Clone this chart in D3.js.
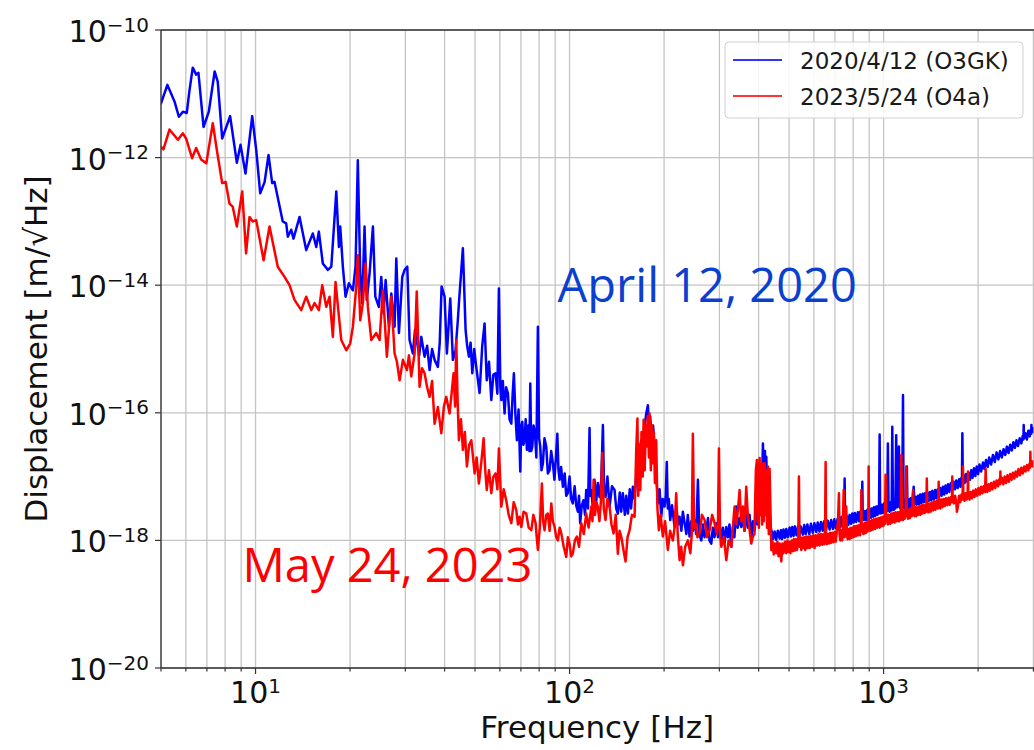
<!DOCTYPE html>
<html>
<head>
<meta charset="utf-8">
<script src="https://cdn.jsdelivr.net/npm/d3@7"></script>
<style>
  html, body { margin: 0; padding: 0; background: #fff; overflow: hidden; }
  svg { display: block; }
</style>
</head>
<body>
<svg id="chart" width="1034" height="750"></svg>
<script>
// Displacement noise spectra: [frequency in Hz, log10 of displacement in m/sqrt(Hz)]
const o3gk = [
  [5.00,-11.15],[5.24,-10.86],[5.52,-11.12],[5.70,-11.36],[5.87,-11.28],[6.04,-11.30],[6.16,-10.95],
  [6.31,-10.59],[6.47,-10.70],[6.58,-10.67],[6.83,-11.52],[7.10,-11.28],[7.41,-10.65],[7.58,-10.81],
  [7.83,-11.70],[8.07,-11.52],[8.30,-11.35],[8.72,-12.08],[8.96,-11.80],[9.29,-12.25],[9.76,-11.35],
  [10.05,-11.88],[10.35,-12.56],[10.69,-12.38],[11.0,-11.96],[11.30,-12.40],[11.49,-12.38],[12.21,-13.00],
  [12.52,-13.03],[12.67,-13.24],[12.99,-13.13],[13.21,-13.27],[13.81,-12.93],[14.50,-13.45],[15.22,-13.19],
  [15.61,-13.40],[15.91,-13.16],[16.38,-13.66],[17.0,-13.76],[17.43,-13.71],[18.08,-12.53],[18.43,-13.40],
  [18.61,-13.08],[18.97,-13.71],[19.35,-14.18],[19.83,-13.97],[20.42,-14.08],[20.82,-13.71],[21.17,-12.04],
  [21.55,-13.81],[21.87,-14.28],[22.24,-13.08],[22.60,-14.23],[23.08,-13.81],[23.65,-13.08],[24.07,-14.18],
  [24.70,-14.34],[25.14,-13.87],[25.57,-14.44],[25.96,-13.92],[26.59,-14.65],[27.06,-14.13],[27.72,-14.65],
  [28.07,-13.58],[28.62,-14.75],[29.33,-13.87],[29.84,-13.76],[30.43,-13.71],[30.94,-14.86],[31.70,-15.07],
  [32.2,-14.7],[32.61,-14.86],[33.2,-15.1],[33.72,-14.81],[34.54,-15.12],[35.2,-14.95],[35.83,-15.33],
  [36.5,-15.0],[37.17,-15.17],[38.08,-15.28],[38.6,-14.9],[39.13,-14.02],[40.0,-14.18],[40.68,-15.07],
  [41.70,-14.21],[42.51,-15.17],[43.35,-15.02],[44.0,-14.6],[44.65,-14.13],[45.74,-13.42],[46.66,-14.70],
  [47.2,-14.95],[47.81,-15.12],[48.4,-14.9],[49.01,-15.38],[49.7,-15.0],[50.45,-15.28],[51.70,-15.69],
  [52.7,-14.96],[53.63,-14.60],[54.49,-15.49],[55.4,-15.2],[56.34,-15.80],[57.2,-15.4],[58.14,-15.38],
  [58.9,-15.7],[59.57,-14.05],[60.2,-15.6],[60.63,-15.80],[61.3,-15.5],[62.11,-16.01],[62.8,-15.6],
  [63.63,-15.69],[64.4,-16.1],[65.24,-16.17],[65.9,-15.7],[66.49,-15.38],[67.2,-16.0],[67.97,-16.43],
  [68.8,-15.95],[69.68,-16.92],[70.2,-16.2],[70.72,-16.14],[71.3,-16.5],[71.92,-16.43],[72.5,-16.1],
  [73.15,-16.58],[73.9,-16.2],[74.5,-16.6],[74.98,-15.54],[75.5,-16.6],[76.10,-16.53],[76.8,-16.2],
  [77.6,-16.32],[78.4,-16.7],[79.28,-14.65],[80.0,-16.4],[80.68,-16.53],[81.4,-16.9],[82.25,-16.79],
  [83.2,-16.4],[84.29,-16.53],[85.3,-16.95],[86.39,-16.90],[87.4,-16.6],[88.51,-16.79],[89.5,-17.05],
  [90.5,-16.7],[91.42,-16.33],[92.2,-16.9],[92.97,-17.05],[94.0,-16.85],[95.25,-17.16],[96.5,-16.95],
  [97.6,-17.3],[98.76,-17.26],[100.0,-17.0],[101.2,-17.35],[102.4,-17.42],[103.8,-17.15],[105.0,-17.45],
  [106.3,-17.55],[107.2,-17.3],[108.1,-17.73],[109.4,-17.45],[110.8,-17.37],[112.0,-17.6],[113.0,-17.21],
  [114.5,-17.5],[115.8,-16.24],[116.5,-17.3],[117.3,-17.21],[118.7,-17.5],[120.1,-17.05],[121.5,-17.4],
  [123,-17.1],[124.6,-17.32],[126.2,-17.05],[127.7,-16.19],[128.8,-17.2],[130.2,-17.32],[132,-17.0],
  [134.1,-17.47],[136.5,-17.15],[139.1,-17.21],[140.8,-17.5],[142.5,-17.58],[144.5,-17.25],[146,-17.55],
  [147.8,-17.26],[150,-17.6],[151.5,-17.3],[153.4,-17.58],[155.5,-17.2],[157,-17.5],[159.1,-17.16],
  [161,-17.35],[163.1,-17.00],[165,-16.8],[167,-16.6],[169.2,-16.43],[171,-16.7],[173,-16.25],
  [175.5,-16.01],[177.6,-15.88],[179,-16.2],[180.7,-16.06],[182.5,-16.45],[184.5,-16.2],[186.5,-16.53],
  [188.5,-16.9],[191.1,-17.42],[193.5,-17.2],[195.9,-17.63],[198,-17.35],[200.7,-17.47],[202.5,-17.3],
  [204.0,-16.77],[205.5,-17.5],[207,-17.35],[209.2,-17.68],[212,-17.45],[216.0,-17.79],[219,-17.5],
  [221.5,-17.75],[224.1,-17.63],[227,-17.85],[229.5,-17.55],[232.5,-17.73],[235.5,-17.9],[238,-17.6],
  [241.1,-17.94],[244,-17.7],[247,-17.85],[250.1,-17.68],[253,-17.9],[256.3,-17.05],[259,-17.9],
  [262.8,-18.00],[266,-17.75],[269,-17.95],[272.5,-17.84],[276,-17.65],[279,-18.0],[282.7,-18.05],
  [286,-17.8],[289.5,-17.95],[293.2,-17.73],[297,-17.95],[300.5,-17.75],[304.3,-18.00],[308,-17.8],
  [311.5,-18.05],[315.6,-17.79],[319.5,-17.95],[323,-17.75],[327.4,-18.10],[331,-17.8],[335,-17.95],
  [339.5,-17.47],[343,-17.8],[347.9,-17.65],[352.3,-17.79],[356.5,-17.6],[360.8,-17.85],[365.3,-17.52],
  [369.5,-17.8],[374.4,-17.6],[379.1,-18.00],[383.5,-17.7],[388,-17.85],[393.1,-17.58],[397,-17.75],
  [400,-17.30],[403,-17.6],[405,-16.90],[407,-17.5],[409,-17.40],[412.8,-16.48],[416,-16.90],[419,-16.60],
  [421,-17.0],[423.1,-16.69],[425.5,-17.1],[428,-17.20],[431.5,-17.5],[435.8,-17.79],[440,-17.85],
  [444.5,-17.98],[449.8,-17.86],[455,-17.99],[460.5,-17.85],[466.6,-17.97],[471,-17.84],[475,-17.98],
  [480,-17.83],[485,-17.96],[490,-17.82],[495,-17.95],[502.1,-17.8],[507,-17.94],[512,-17.79],[517,-17.93],
  [522,-17.78],[528,-17.92],[535,-17.77],[540,-17.92],[545,-17.78],[553.5,-17.91],[559,-17.76],[565,-17.9],
  [572,-17.75],[580,-17.9],[587,-17.74],[595,-17.88],[602,-17.73],[610.5,-17.87],[617,-17.72],[625,-17.86],
  [632,-17.71],[640,-17.85],[647,-17.7],[655,-17.84],[664,-17.69],[673.2,-17.83],[681,-17.68],[690,-17.82],
  [697,-17.67],[705,-17.81],[714,-17.66],[724.5,-17.8],[730,-17.64],[735,-17.78],[740,-17.62],[745,-17.74],
  [749,-17.6],[751.6,-17.03],[754,-17.62],[758,-17.76],[765,-17.62],[772,-17.76],[779.6,-17.6],[788,-17.74],
  [795,-17.58],[803,-17.72],[810,-17.57],[818,-17.71],[828.2,-17.56],[836,-17.7],[843,-17.55],[850,-17.69],
  [853,-17.55],[855.7,-17.08],[858,-17.6],[865,-17.68],[872,-17.54],[880.9,-17.68],[888,-17.52],[895,-17.66],
  [902,-17.5],[910,-17.65],[918,-17.5],[924.9,-17.63],[932,-17.48],[940,-17.62],[948,-17.47],[956,-17.6],
  [962,-17.46],[967,-17.58],[971.5,-16.34],[975,-17.5],[980,-17.58],[987,-17.44],[995.3,-17.57],
  [1003,-17.42],[1011,-17.56],[1020,-17.42],[1027,-17.54],[1032,-16.48],[1037,-17.45],[1045,-17.55],
  [1055,-17.4],[1061,-17.53],[1066,-16.22],[1071,-17.42],[1078,-17.52],[1084,-17.38],[1090,-17.5],
  [1097,-16.35],[1101,-17.2],[1108,-17.48],[1114,-17.3],[1119,-16.53],[1124,-17.38],[1130,-17.5],
  [1139,-17.38],[1146,-17.52],[1153,-15.72],[1158,-17.45],[1163,-17.36],[1167,-17.5],[1175,-17.36],
  [1181,-17.48],[1186,-16.84],[1191,-17.4],[1199,-17.5],[1206,-17.36],[1211,-17.48],[1220,-17.34],
  [1230,-17.46],[1238,-17.33],[1247,-17.16],[1256,-17.44],[1265,-17.32],[1275,-17.44],[1286,-17.3],
  [1297,-17.43],[1308,-17.28],[1320,-17.42],[1332,-17.27],[1345,-17.4],[1356,-17.26],[1368,-17.39],
  [1380,-17.25],[1393,-17.38],[1405,-17.24],[1418,-17.37],[1430,-17.22],[1445,-17.36],[1460,-17.21],
  [1472,-17.34],[1488,-17.2],[1500,-17.32],[1515,-17.18],[1530,-17.3],[1545,-17.16],[1560,-17.28],
  [1575,-17.14],[1590,-17.26],[1605,-17.12],[1620,-17.24],[1638,-17.1],[1655,-17.22],[1672,-17.08],
  [1688,-17.2],[1704,-17.06],[1722,-17.18],[1740,-17.04],[1758,-17.16],[1770,-17.02],[1776,-17.12],
  [1782,-16.32],[1788,-17.1],[1800,-16.98],[1812,-17.1],[1830,-16.96],[1848,-17.08],[1866,-16.94],
  [1884,-17.05],[1902,-16.9],[1920,-17.02],[1940,-16.87],[1960,-16.99],[1980,-16.84],[2000,-16.96],
  [2020,-16.81],[2045,-16.92],[2073,-16.78],[2095,-16.88],[2120,-16.74],[2145,-16.85],[2170,-16.7],
  [2200,-16.81],[2230,-16.66],[2260,-16.77],[2290,-16.62],[2320,-16.73],[2350,-16.6],[2380,-16.7],
  [2410,-16.57],[2440,-16.66],[2470,-16.53],[2500,-16.63],[2530,-16.5],[2560,-16.59],[2590,-16.46],
  [2620,-16.55],[2650,-16.43],[2680,-16.52],[2713,-16.4],[2745,-16.48],[2775,-16.36],[2788,-16.42],
  [2794,-16.19],[2800,-16.4],[2830,-16.32],[2860,-16.42],[2890,-16.28],[2920,-16.37],[2945,-16.26],
  [2952,-16.33],[2956,-16.19],[2962,-16.3],[2985,-16.24],[3006,-16.3]
];

const o4a = [
  [5.00,-11.83],[5.09,-11.87],[5.32,-11.56],[5.66,-11.72],[5.87,-11.62],[6.01,-11.70],[6.28,-12.01],
  [6.47,-11.85],[6.71,-12.03],[6.97,-12.09],[7.31,-11.46],[7.53,-11.88],[7.83,-12.40],[8.03,-12.38],
  [8.26,-12.72],[8.46,-12.77],[8.72,-13.08],[9.07,-12.53],[9.33,-13.50],[9.57,-12.93],[9.80,-13.00],
  [10.05,-12.98],[10.61,-13.61],[11.08,-13.08],[11.77,-13.71],[12.37,-13.87],[12.83,-14.00],[13.31,-14.23],
  [13.98,-14.39],[14.50,-14.18],[15.05,-14.39],[15.42,-14.28],[15.91,-14.39],[16.31,-14.00],[16.80,-14.34],
  [17.21,-14.18],[17.63,-14.81],[17.98,-13.95],[18.75,-14.86],[19.45,-15.02],[20.03,-14.91],[20.42,-14.65],
  [20.93,-14.02],[21.17,-13.53],[21.55,-14.55],[21.97,-14.28],[22.40,-13.66],[22.79,-14.34],[23.37,-14.86],
  [24.23,-14.75],[24.83,-14.86],[25.44,-14.08],[26.20,-15.12],[27.06,-14.18],[27.72,-15.07],[28.2,-15.2],
  [28.76,-15.49],[29.47,-15.17],[30.35,-15.33],[30.8,-15.1],[31.33,-15.43],[32.10,-15.07],[32.61,-14.10],
  [33.30,-15.59],[33.9,-15.3],[34.54,-15.38],[35.2,-15.6],[35.83,-15.75],[36.5,-15.5],[37.17,-16.17],
  [38.08,-15.91],[39.05,-16.32],[39.8,-15.9],[40.49,-15.75],[41.49,-16.01],[42.1,-15.7],[42.73,-15.38],
  [43.2,-15.9],[43.58,-14.86],[44.0,-15.8],[44.43,-16.43],[45.1,-16.1],[45.74,-16.58],[46.4,-16.3],
  [47.11,-16.84],[47.9,-16.5],[48.66,-16.43],[49.85,-16.95],[50.6,-16.7],[51.44,-17.11],[52.3,-16.8],
  [53.25,-16.40],[53.9,-16.9],[54.49,-17.21],[55.4,-16.9],[56.34,-17.26],[57.2,-17.0],[58.14,-16.95],
  [58.9,-17.2],[59.57,-16.56],[60.63,-17.47],[61.7,-17.2],[62.86,-17.37],[64,-17.6],[65.24,-17.73],
  [66.4,-17.4],[67.65,-17.52],[68.5,-17.75],[69.33,-17.63],[70.20,-17.79],[71.4,-17.55],[72.80,-17.58],
  [74.1,-17.8],[75.55,-17.84],[76.7,-17.6],[77.97,-17.73],[78.6,-17.95],[79.28,-18.15],[80.4,-17.8],
  [81.64,-17.11],[82.4,-17.7],[83.28,-17.84],[84.3,-17.6],[85.31,-17.58],[86.4,-17.85],[87.48,-17.42],
  [88.5,-17.7],[89.62,-17.79],[90.7,-17.95],[91.81,-18.00],[93,-17.8],[94.14,-17.89],[95.8,-18.1],
  [97.61,-18.26],[98.8,-17.95],[100.0,-18.05],[101.2,-18.25],[102.4,-18.21],[104,-18.0],[105.5,-17.94],
  [107.2,-18.1],[109.0,-17.73],[111,-17.9],[113.0,-17.58],[115,-17.8],[117.3,-17.47],[118.3,-17.7],
  [119.3,-17.05],[120.5,-17.6],[121.8,-17.4],[123.0,-17.47],[124.5,-17.7],[125.8,-17.4],[127.1,-16.63],
  [128.5,-17.5],[130.2,-17.68],[132,-17.35],[134.1,-17.47],[136,-17.75],[138.1,-17.89],[140.3,-17.6],
  [142.5,-18.21],[144.3,-17.85],[146.1,-17.94],[148.5,-18.15],[150.8,-18.33],[153,-17.95],[155.3,-17.84],
  [158,-17.6],[161.1,-17.63],[163,-16.60],[164.5,-16.09],[165.5,-17.30],[167,-16.50],[168,-17.21],
  [169.5,-16.30],[171,-17.00],[172.1,-16.11],[173.5,-16.90],[175,-16.20],[176.3,-16.53],[177.5,-16.05],
  [179,-16.70],[179.8,-16.01],[181.5,-16.90],[183,-16.20],[184.2,-16.79],[185.5,-16.30],[187,-17.10],
  [188.8,-16.43],[190.5,-17.50],[192.5,-17.84],[195,-17.6],[198.2,-17.94],[201.5,-17.7],[205.6,-18.15],
  [209,-17.85],[213.3,-18.00],[216,-17.8],[218.6,-17.26],[221,-17.9],[224.1,-18.31],[226.8,-18.1],
  [229.6,-18.39],[233.5,-18.1],[238.1,-18.00],[242.5,-18.2],[245,-17.9],[247.0,-16.33],[249.3,-17.8],
  [251.9,-17.73],[255.5,-17.95],[259.5,-17.89],[264,-17.6],[269.2,-17.68],[274,-17.95],[279.2,-17.84],
  [284.5,-17.6],[289.6,-17.73],[294.5,-17.9],[297,-17.7],[299.0,-16.56],[301.5,-17.9],[304.3,-18.10],
  [310,-17.95],[315.6,-18.31],[321,-18.0],[327.4,-18.10],[331,-17.8],[335.4,-17.47],[340,-17.75],
  [344,-17.5],[347.9,-17.21],[352,-17.7],[356.4,-17.47],[360.5,-17.85],[365.3,-17.16],[369.5,-17.6],
  [374.4,-17.84],[379,-18.05],[383.6,-17.94],[388,-17.90],[392,-16.90],[395,-16.74],[397,-17.70],
  [399,-16.80],[401,-17.80],[403,-16.71],[405.5,-17.60],[408,-16.85],[410.5,-17.75],[413,-16.80],
  [415.5,-17.70],[418,-16.79],[420.5,-17.60],[423,-16.90],[425.5,-17.80],[428.2,-16.84],[431,-17.90],
  [433.6,-16.88],[439.1,-18.15],[443,-18.02],[447,-18.22],[451,-18.05],[455.3,-18.2],[459,-18.02],
  [463,-18.25],[467,-18.05],[472.5,-18.33],[476,-18.05],[480,-18.2],[485,-18.02],[489.9,-18.2],[494,-18.0],
  [497,-18.18],[501,-18.02],[505,-18.2],[510,-18.0],[514.4,-18.17],[518,-17.98],[522,-18.16],[526,-17.98],
  [530,-18.15],[535,-17.98],[537.6,-17.00],[540,-18.1],[544,-17.95],[547.1,-18.15],[551,-17.96],
  [555,-18.12],[559,-17.95],[563,-18.15],[567,-17.94],[572,-18.12],[576,-17.94],[581.4,-18.12],
  [586,-17.93],[592,-18.1],[597,-17.92],[603.1,-18.12],[608,-17.92],[614,-18.08],[620,-17.9],
  [625.6,-18.08],[632,-17.9],[638,-18.07],[644,-17.9],[648,-18.06],[651,-17.92],[653.8,-16.77],
  [656,-17.95],[660,-18.06],[664.8,-17.9],[670,-18.05],[675,-17.88],[680,-18.04],[686,-17.88],
  [692,-18.03],[698.4,-17.87],[704,-18.02],[710,-17.85],[716,-17.7],[720.9,-17.26],[724,-17.9],
  [728,-18.0],[733.6,-17.84],[738,-18.0],[742,-17.82],[746.2,-17.21],[749,-17.8],[752,-17.95],
  [756,-17.6],[760.7,-17.47],[764,-17.85],[768,-17.98],[773,-17.82],[779.6,-17.98],[785,-17.8],
  [790,-17.96],[795,-17.8],[800,-17.95],[805,-17.78],[810,-17.94],[814,-17.78],[818.6,-17.93],
  [824,-17.77],[830,-17.92],[836,-17.76],[842,-17.92],[847,-17.8],[849.5,-17.21],[852,-17.85],
  [857,-17.75],[862,-17.9],[866,-17.74],[870.3,-17.89],[875,-17.72],[880,-17.88],[885,-17.72],
  [890,-17.86],[894,-17.7],[896.2,-16.84],[899,-17.75],[905,-17.85],[910,-17.7],[914.2,-17.84],
  [920,-17.68],[925,-17.83],[932,-17.67],[940,-17.82],[947,-17.66],[955,-17.8],[963,-17.65],
  [971.5,-17.8],[978,-17.64],[985,-17.78],[992,-17.63],[1000,-17.77],[1006,-17.62],[1010,-17.74],
  [1015,-16.97],[1020,-17.7],[1026,-17.6],[1032,-17.75],[1040,-17.6],[1050,-17.74],[1058,-17.58],
  [1065,-17.72],[1075,-17.57],[1084,-17.72],[1092,-17.56],[1100,-17.7],[1110,-17.56],[1120,-17.7],
  [1128,-17.55],[1134,-17.68],[1139,-16.66],[1145,-17.6],[1153,-17.68],[1160,-17.54],[1167,-17.66],
  [1176,-17.54],[1181,-16.84],[1187,-17.6],[1196,-17.66],[1205,-17.52],[1213,-17.65],[1220,-17.5],
  [1230,-17.62],[1236,-17.52],[1241,-17.21],[1247,-17.55],[1255,-17.62],[1263,-17.48],[1272,-17.62],
  [1282,-17.48],[1290,-17.6],[1300,-17.46],[1310,-17.6],[1320,-17.45],[1330,-17.58],[1341,-17.44],
  [1352,-17.57],[1362,-17.45],[1368,-17.55],[1373,-17.03],[1378,-17.5],[1390,-17.56],[1402,-17.42],
  [1413,-17.55],[1425,-17.4],[1437,-17.53],[1450,-17.39],[1462,-17.52],[1475,-17.38],[1489,-17.5],
  [1494,-17.4],[1498,-17.08],[1502,-17.42],[1515,-17.5],[1528,-17.36],[1540,-17.48],[1553,-17.35],
  [1566,-17.46],[1580,-17.34],[1595,-17.45],[1610,-17.33],[1625,-17.44],[1640,-17.32],[1650,-17.4],
  [1655,-17.00],[1660,-17.35],[1675,-17.42],[1690,-17.3],[1705,-17.42],[1712,-17.55],[1725,-17.47],
  [1740,-17.3],[1755,-17.4],[1770,-17.28],[1785,-17.36],[1790,-16.84],[1795,-17.3],[1810,-17.38],
  [1825,-17.26],[1840,-17.36],[1852,-17.3],[1857,-16.92],[1862,-17.3],[1878,-17.36],[1895,-17.24],
  [1912,-17.34],[1930,-17.22],[1948,-17.32],[1966,-17.2],[1985,-17.3],[2005,-17.18],[2025,-17.28],
  [2045,-17.16],[2065,-17.26],[2085,-17.15],[2105,-17.24],[2114,-16.88],[2122,-17.18],[2140,-17.24],
  [2160,-17.12],[2180,-17.22],[2200,-17.1],[2222,-17.2],[2245,-17.08],[2268,-17.18],[2290,-17.06],
  [2313,-17.15],[2336,-17.04],[2350,-17.12],[2355,-16.92],[2360,-17.1],[2383,-17.02],[2406,-17.12],
  [2430,-17.0],[2455,-17.1],[2480,-16.98],[2505,-17.08],[2530,-16.96],[2556,-17.05],[2582,-16.94],
  [2608,-17.03],[2635,-16.92],[2662,-17.0],[2690,-16.88],[2718,-16.98],[2746,-16.86],[2775,-16.95],
  [2804,-16.84],[2833,-16.92],[2862,-16.82],[2890,-16.9],[2915,-16.8],[2928,-16.86],[2934,-16.61],
  [2940,-16.84],[2960,-16.76],[2985,-16.84],[3006,-16.76]
];

const seriesLabels = ["2020/4/12 (O3GK)", "2023/5/24 (O4a)"];
const seriesColors = ["#0000ff", "#ff0000"];
const xMajorTicks = [10, 100, 1000];
const yTickExponents = [-10, -12, -14, -16, -18, -20];
const annotationTexts = ["April 12, 2020", "May 24, 2023"];
const annotationColors = ["#0b3fd0", "#ff0000"];

const svg = d3.select("#chart");
const plot = { left: 161, top: 30, right: 1033.4, bottom: 668 };

const x = d3.scaleLog().domain([5, 3000]).range([plot.left, plot.right]);
const y = d3.scaleLog().domain([1e-20, 1e-10]).range([plot.bottom, plot.top]);

const gridColor = "#c4c4c4";
const spineColor = "#333";
const mplFont = "'DejaVu Sans', sans-serif";

svg.append("defs").append("clipPath").attr("id", "plotClip")
  .append("rect")
  .attr("x", plot.left).attr("y", plot.top)
  .attr("width", plot.right - plot.left).attr("height", plot.bottom - plot.top);

// Vertical grid at every 1-9 multiple of each decade
const xGridValues = [];
for (let e = 0; e <= 3; e++) {
  for (let m = 1; m <= 9; m++) {
    const v = m * Math.pow(10, e);
    if (v >= 5 && v <= 3000) xGridValues.push(v);
  }
}
const gridG = svg.append("g");
gridG.selectAll("line.vx").data(xGridValues).join("line")
  .attr("class", "vx")
  .attr("x1", d => x(d)).attr("x2", d => x(d))
  .attr("y1", plot.top).attr("y2", plot.bottom)
  .attr("stroke", gridColor).attr("stroke-width", 1.3);

gridG.selectAll("line.hy").data(yTickExponents).join("line")
  .attr("class", "hy")
  .attr("x1", plot.left).attr("x2", plot.right)
  .attr("y1", d => y(Math.pow(10, d))).attr("y2", d => y(Math.pow(10, d)))
  .attr("stroke", gridColor).attr("stroke-width", 1.3);

// Spectra
const line = d3.line()
  .x(d => x(d[0]))
  .y(d => y(Math.pow(10, d[1])));

const traceG = svg.append("g").attr("clip-path", "url(#plotClip)");
[o3gk, o4a].forEach((series, i) => {
  traceG.append("path")
    .datum(series)
    .attr("d", line)
    .attr("fill", "none")
    .attr("stroke", seriesColors[i])
    .attr("stroke-width", 2.5)
    .attr("stroke-linejoin", "round")
    .attr("stroke-linecap", "round");
});

// Spines
const spineG = svg.append("g").attr("stroke", spineColor).attr("stroke-width", 1.3);
spineG.append("line").attr("x1", plot.left).attr("x2", plot.left).attr("y1", plot.top).attr("y2", plot.bottom);
spineG.append("line").attr("x1", plot.left).attr("x2", 1034).attr("y1", plot.bottom).attr("y2", plot.bottom);
spineG.append("line").attr("x1", plot.left).attr("x2", 1034).attr("y1", plot.top).attr("y2", plot.top);

// Tick marks
const tickG = svg.append("g").attr("stroke", spineColor).attr("stroke-width", 1.2);
tickG.selectAll("line.xt").data(xGridValues).join("line")
  .attr("class", "xt")
  .attr("x1", d => x(d)).attr("x2", d => x(d))
  .attr("y1", plot.bottom)
  .attr("y2", d => plot.bottom + (xMajorTicks.includes(d) ? 6 : 3.5));
tickG.selectAll("line.yt").data(yTickExponents).join("line")
  .attr("class", "yt")
  .attr("x1", plot.left - 6).attr("x2", plot.left)
  .attr("y1", d => y(Math.pow(10, d))).attr("y2", d => y(Math.pow(10, d)));

// Tick labels as 10^n
function powerLabel(sel, exp) {
  sel.append("tspan").text("10");
  sel.append("tspan")
    .attr("dy", -10.5)
    .attr("font-size", 20)
    .text(exp < 0 ? "\u2212" + Math.abs(exp) : String(exp));
}
yTickExponents.forEach(e => {
  const t = svg.append("text")
    .attr("x", 149)
    .attr("y", y(Math.pow(10, e)) + 12)
    .attr("text-anchor", "end")
    .attr("font-family", mplFont)
    .attr("font-size", 30)
    .attr("fill", "#111");
  powerLabel(t, e);
});
xMajorTicks.forEach(v => {
  const t = svg.append("text")
    .attr("x", x(v))
    .attr("y", 703)
    .attr("text-anchor", "middle")
    .attr("font-family", mplFont)
    .attr("font-size", 30)
    .attr("fill", "#111");
  powerLabel(t, Math.round(Math.log10(v)));
});

// Axis titles
svg.append("text")
  .attr("x", (plot.left + plot.right) / 2)
  .attr("y", 738)
  .attr("text-anchor", "middle")
  .attr("font-family", mplFont)
  .attr("font-size", 31)
  .attr("fill", "#111")
  .text("Frequency [Hz]");

svg.append("text")
  .attr("transform", `translate(47, ${(plot.top + plot.bottom) / 2}) rotate(-90)`)
  .attr("text-anchor", "middle")
  .attr("font-family", mplFont)
  .attr("font-size", 31)
  .attr("fill", "#111")
  .text("Displacement [m/\u221AHz]");

// Legend
const legend = svg.append("g");
legend.append("rect")
  .attr("x", 725).attr("y", 42).attr("width", 298).attr("height", 76)
  .attr("rx", 4)
  .attr("fill", "#fff").attr("fill-opacity", 0.85)
  .attr("stroke", "#d0d0d0").attr("stroke-width", 1);
seriesLabels.forEach((label, i) => {
  const ly = 60 + i * 36;
  legend.append("line")
    .attr("x1", 733).attr("x2", 782).attr("y1", ly).attr("y2", ly)
    .attr("stroke", seriesColors[i]).attr("stroke-width", 2.2).attr("stroke-opacity", 0.8);
  legend.append("text")
    .attr("x", 800).attr("y", ly + 8.5)
    .attr("font-family", mplFont)
    .attr("font-size", 23)
    .attr("fill", "#1a1a1a")
    .text(label);
});

// Date annotations placed in data coordinates
const annotationAnchors = [[91.6, 5.5e-15], [9.09, 2.24e-19]];
annotationTexts.forEach((txt, i) => {
  svg.append("text")
    .attr("x", x(annotationAnchors[i][0]))
    .attr("y", y(annotationAnchors[i][1]))
    .attr("font-family", "'Open Sans', sans-serif")
    .attr("font-size", 47)
    .attr("fill", annotationColors[i])
    .text(txt);
});
</script>
</body>
</html>
